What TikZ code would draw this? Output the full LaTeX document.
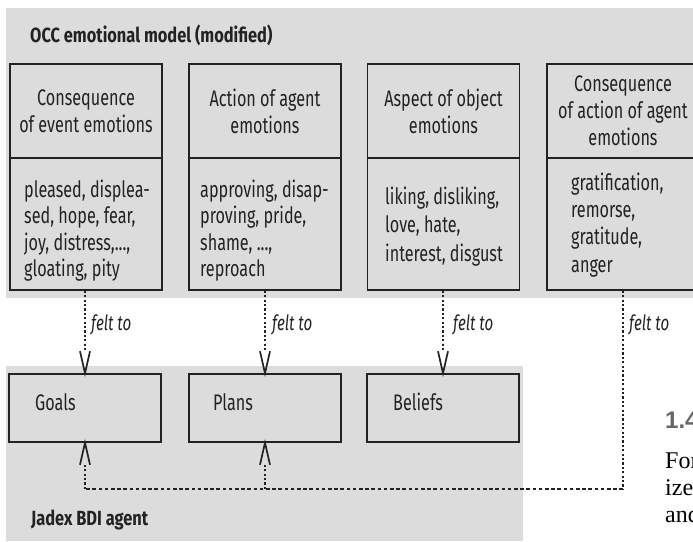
\documentclass[tikz,border=0pt]{standalone}
\usepackage{fontspec}
\newfontfamily\agency[FakeStretch=0.72]{Fira Sans}
\newfontfamily\agencybold[FakeStretch=0.8]{Fira Sans Bold}
\newfontfamily\pagesans{Liberation Sans}
\newfontfamily\pageserif{Liberation Serif}
\definecolor{panel}{HTML}{DCDCDC}
\definecolor{ink}{HTML}{222222}
\begin{document}
\begin{tikzpicture}[x=1pt,y=-1pt,
  panelbox/.style={fill=panel, draw=none},
  box/.style={draw=ink, line width=1.5pt, fill=panel, minimum width=152pt, inner sep=0pt,
    font=\agency\fontsize{22.5}{27}\selectfont, text=ink, align=center},
  txt/.style={inner sep=0pt, font=\agency\fontsize{22.5}{27}\selectfont, text=ink, anchor=base west},
  ttl/.style={inner sep=0pt, font=\agencybold\fontsize{20.5}{24}\selectfont, text=ink, anchor=base west},
  felt/.style={inner sep=0pt, font=\agency\itshape\fontsize{21}{24}\selectfont, text=ink, anchor=base west},
  flow/.style={line width=1.6pt, draw=ink, dash pattern=on 2.2pt off 2.2pt},
  flowh/.style={line width=1.6pt, draw=ink, dash pattern=on 3.6pt off 2.6pt},
  pagetext/.style={inner sep=0pt, anchor=base west, font=\pageserif\fontsize{24}{27}\selectfont},
  vhead/.pic={\draw[line width=1.7pt, draw=ink, solid, line join=miter, line cap=butt]
    (-5,-22) -- (0,0) -- (5,-22);}
]
\useasboundingbox (0,0) rectangle (693,541);
\clip (0,0) rectangle (693,541);
\fill[white] (0,0) rectangle (693,541);
% panels
\fill[panelbox] (6,8) rectangle (700,298);
\fill[panelbox] (6,366) rectangle (523,541);
\node[ttl] (title) at (30,42) {OCC emotional model (modified)};
\node[ttl] (jadex) at (31,525) {Jadex BDI agent};
% OCC boxes
\node[box, minimum height=94pt] (h1) at (86,111) {Consequence\\of event emotions};
\node[box, minimum height=132pt] (b1) at (86,224) {};
\node[box, minimum height=94pt] (h2) at (265,111) {Action of agent\\emotions};
\node[box, minimum height=132pt] (b2) at (265,224) {};
\node[box, minimum height=94pt] (h3) at (443.5,111) {Aspect of object\\emotions};
\node[box, minimum height=132pt] (b3) at (443.5,224) {};
\node[box, minimum height=94pt] (h4) at (623,111) {Consequence\\of action of agent\\emotions};
\node[box, minimum height=132pt] (b4) at (623,224) {};
\node[txt] (ta1) at (24,197) {pleased, displea-};
\node[txt] (ta2) at (24,223.5) {sed, hope, fear,};
\node[txt] (ta3) at (24,250) {joy, distress,...,};
\node[txt] (ta4) at (24,276.5) {gloating, pity};
\node[txt] (tb1) at (200,197) {approving, disap-};
\node[txt] (tb2) at (200,223.5) {proving, pride,};
\node[txt] (tb3) at (200,250) {shame, ...,};
\node[txt] (tb4) at (200,276.5) {reproach};
\node[txt] (tc1) at (385,204) {liking, disliking,};
\node[txt] (tc2) at (385,232.5) {love, hate,};
\node[txt] (tc3) at (385,261) {interest, disgust};
\node[txt] (td1) at (571,190) {gratification,};
\node[txt] (td2) at (571,217.3) {remorse,};
\node[txt] (td3) at (571,244.6) {gratitude,};
\node[txt] (td4) at (571,272) {anger};
% BDI boxes
\node[box, minimum height=68pt] (g) at (85,408) {};
\node[box, minimum height=68pt] (p) at (265,408) {};
\node[box, minimum height=68pt] (bl) at (443,408) {};
\node[txt] (gt) at (35,410) {Goals};
\node[txt] (pt) at (213,410) {Plans};
\node[txt] (blt) at (393,410) {Beliefs};
% connectors: felt to (downwards)
\draw[flow] (g.north |- b1.south) -- ([yshift=22pt]g.north);
\draw[flow] (p.north |- b2.south) -- ([yshift=22pt]p.north);
\draw[flow] (bl.north |- b3.south) -- ([yshift=22pt]bl.north);
\pic at (g.north) {vhead};
\pic at (p.north) {vhead};
\pic at (bl.north) {vhead};
% return path to goals and plans
\coordinate (ret) at (623,489);
\coordinate (retg) at (ret -| g.south);
\coordinate (retp) at (ret -| p.south);
\draw[flow] (b4.south) -- (ret);
\draw[flowh] (ret) -- (retg);
\draw[flow] (retg) -- ([yshift=-22pt]g.south);
\draw[flow] (retp) -- ([yshift=-22pt]p.south);
\pic[yscale=-1] at (g.south) {vhead};
\pic[yscale=-1] at (p.south) {vhead};
\node[felt] (f1) at (91,330) {felt to};
\node[felt] (f2) at (272,330) {felt to};
\node[felt] (f3) at (453,330) {felt to};
\node[felt] (f4) at (629,330) {felt to};
% page text bleeding in at the right
\node[inner sep=0pt, anchor=base west, font=\pagesans\bfseries\fontsize{24}{27}\selectfont, text=black!60] (sec) at (665,428) {1.4};
\node[pagetext] (l1) at (665,468) {For};
\node[pagetext] (l2) at (665,495) {ize};
\node[pagetext] (l3) at (665,522) {and};
\end{tikzpicture}
\end{document}
